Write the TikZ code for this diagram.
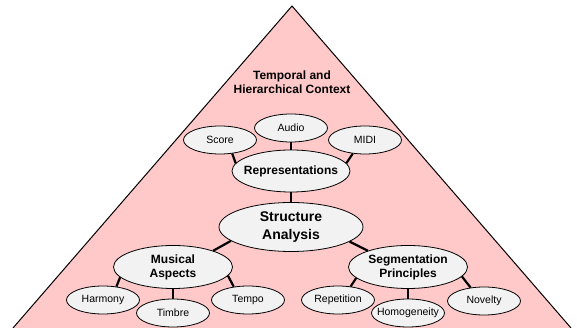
\documentclass[tikz,border=0pt]{standalone}
\usepackage{fontspec}
\setmainfont{Liberation Sans}
\usepackage{xcolor}
\usetikzlibrary{shapes.geometric}
\definecolor{pyramidpink}{HTML}{FFC9C9}
\definecolor{bubblegray}{HTML}{F2F2F2}

\begin{document}
\begin{tikzpicture}[x=1pt, y=1pt,
    bubble/.style={ellipse, draw=black, fill=bubblegray, line width=0.8pt,
                   inner sep=0pt, align=center},
    leaf/.style={bubble, minimum width=73pt, minimum height=28pt,
                 font=\fontsize{10.5}{12}\selectfont},
    branch/.style={bubble, minimum width=119pt, minimum height=43pt,
                   font=\bfseries\fontsize{12}{14}\selectfont},
    link/.style={line width=2.2pt}]
    \useasboundingbox (0,0) rectangle (577,328);
    % pyramid
    \fill[pyramidpink] (13,0) -- (292,322) -- (571,0) -- cycle;
    \draw[line width=1pt, line join=miter] (13,0) -- (292,322) -- (571,0);
    \node[font=\bfseries\fontsize{12}{14}\selectfont, align=center] (context)
      at (292,246) {Temporal and\\Hierarchical Context};

    % representations
    \node[leaf] (audio) at (291,200) {Audio};
    \node[leaf] (score) at (220,188) {Score};
    \node[leaf] (midi) at (365,188) {MIDI};
    \node[branch, minimum width=118pt, minimum height=42pt] (rep) at (291,157)
      {\makebox[0pt]{Representations}};

    % centre
    \node[bubble, minimum width=144pt, minimum height=49pt,
          font=\bfseries\fontsize{14}{17.5}\selectfont] (struct) at (291,101)
      {Structure\\Analysis};

    % lower branches
    \node[branch] (musical) at (173,61) {Musical\\Aspects};
    \node[branch] (seg) at (408,61) {Segmentation\\Principles};
    \node[leaf] (harmony) at (103,28) {Harmony};
    \node[leaf] (timbre) at (173,15) {Timbre};
    \node[leaf] (tempo) at (248,28) {Tempo};
    \node[leaf] (repetition) at (338,28) {Repetition};
    \node[leaf] (homog) at (408,15) {\makebox[0pt]{Homogeneity}};
    \node[leaf] (novelty) at (484,27) {Novelty};

    % connectors
    \draw[link] (score.-48) -- (rep.172);
    \draw[link] (audio.south) -- (rep.north);
    \draw[link] (midi.-132) -- (rep.8);
    \draw[link] (rep.south) -- (struct.north);
    \draw[link] (struct.-167) -- (musical.22);
    \draw[link] (struct.-14) -- (seg.158);
    \draw[link] (musical.-169) -- (harmony.45);
    \draw[link] (musical.south) -- (timbre.north);
    \draw[link] (musical.-9) -- (tempo.137);
    \draw[link] (seg.-168) -- (repetition.47);
    \draw[link] (seg.south) -- (homog.north);
    \draw[link] (seg.-10) -- (novelty.135);
\end{tikzpicture}
\end{document}
